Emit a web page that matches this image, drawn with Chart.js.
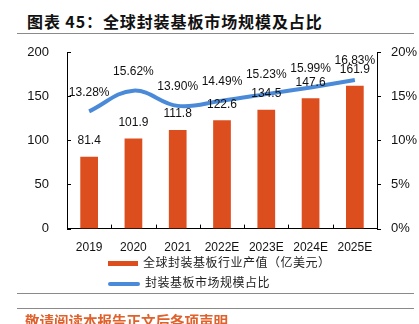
<!DOCTYPE html>
<html>
<head>
<meta charset="utf-8">
<script src="https://cdn.jsdelivr.net/npm/chart.js@4/dist/chart.umd.min.js"></script>
<style>
  body { margin: 0; width: 419px; height: 324px; overflow: hidden; background: #fff; position: relative; font-family: "Noto Sans CJK SC", sans-serif; }
  #titulo { position: absolute; left: 27px; top: 9px; font-size: 16px; font-weight: bold; letter-spacing: 0.9px; color: #111; white-space: nowrap; }
  .linea { position: absolute; left: 17px; width: 397px; height: 1px; background: #8a8a8a; }
  #grafico { position: absolute; left: 0; top: 0; }
  .leyenda { position: absolute; left: 108px; font-size: 12px; color: #222; white-space: nowrap; letter-spacing: 0.5px; }
  .leyenda span { display: inline-block; vertical-align: middle; margin-right: 5px; }
  #pie { position: absolute; left: 25px; top: 310px; font-size: 14.5px; font-weight: bold; color: #e0612b; white-space: nowrap; }
</style>
</head>
<body>
<div id="titulo">图表 45：全球封装基板市场规模及占比</div>
<div class="linea" style="top:33px"></div>
<canvas id="grafico" width="419" height="259"></canvas>
<div class="leyenda" style="top:253px"><span style="width:30px;height:5px;background:#dd4e1f"></span>全球封装基板行业产值（亿美元）</div>
<div class="leyenda" style="top:273px"><span style="width:32px;height:4px;background:#4a8ad8;border-radius:2px"></span>封装基板市场规模占比</div>
<div class="linea" style="top:293px"></div>
<div class="linea" style="top:308px"></div>
<div id="pie">敬请阅读本报告正文后各项声明</div>
<script>
// Datos del gráfico
const anios = ['2019', '2020', '2021', '2022E', '2023E', '2024E', '2025E'];
const valorIndustria = [81.4, 101.9, 111.8, 122.6, 134.5, 147.6, 161.9];
const participacion = [13.28, 15.62, 13.90, 14.49, 15.23, 15.99, 16.83];
const ticksIzq = [0, 50, 100, 150, 200];
const ticksDer = [0, 5, 10, 15, 20];

// Plugin para dibujar etiquetas y marcas de eje
const etiquetasPlugin = {
  id: 'etiquetas',
  afterDatasetsDraw(chart) {
    const ctx = chart.ctx;
    ctx.save();
    ctx.fillStyle = '#111';
    ctx.font = '12px "Liberation Sans", Arial, sans-serif';
    ctx.textAlign = 'center';
    ctx.textBaseline = 'middle';
    chart.getDatasetMeta(0).data.forEach((bar, i) => {
      ctx.fillText(valorIndustria[i].toFixed(1), bar.x, bar.y - 16);
    });
    chart.getDatasetMeta(1).data.forEach((pt, i) => {
      ctx.fillText(participacion[i].toFixed(2) + '%', pt.x, pt.y - 19);
    });

    // marcas de los ejes
    const area = chart.chartArea;
    const yL = chart.scales.y;
    const yR = chart.scales.y1;
    ctx.strokeStyle = '#000';
    ctx.lineWidth = 1;
    ctx.beginPath();
    for (let i = 0; i <= anios.length; i++) {
      const px = Math.round(area.left + (area.right - area.left) * i / anios.length) + 0.5;
      ctx.moveTo(px, area.bottom);
      ctx.lineTo(px, area.bottom - 4);
    }
    ticksIzq.forEach(v => {
      const py = Math.round(yL.getPixelForValue(v)) + 0.5;
      ctx.moveTo(area.left, py);
      ctx.lineTo(area.left + 4, py);
    });
    ticksDer.forEach(v => {
      const py = Math.round(yR.getPixelForValue(v)) + 0.5;
      ctx.moveTo(area.right, py);
      ctx.lineTo(area.right + 4, py);
    });
    ctx.stroke();
    ctx.restore();
  }
};

const ctx = document.getElementById('grafico').getContext('2d');
window.grafico = new Chart(ctx, {
  data: {
    labels: anios,
    datasets: [{
      type: 'bar',
      label: '全球封装基板行业产值（亿美元）',
      data: valorIndustria,
      backgroundColor: '#dd4e1f',
      categoryPercentage: 1,
      barPercentage: 0.4,
      yAxisID: 'y',
      order: 2
    }, {
      type: 'line',
      label: '封装基板市场规模占比',
      data: participacion,
      borderColor: '#4a8ad8',
      borderWidth: 4,
      pointRadius: 0,
      tension: 0.4,
      yAxisID: 'y1',
      order: 1
    }]
  },
  options: {
    responsive: false,
    animation: false,
    layout: { padding: { top: 52, right: 0, left: 0, bottom: 0 } },
    plugins: { legend: { display: false }, tooltip: { enabled: false } },
    scales: {
      x: {
        grid: { display: false },
        border: { color: '#000' },
        ticks: { color: '#111', font: { family: '"Liberation Sans", Arial', size: 12 }, padding: 4, maxRotation: 0 }
      },
      y: {
        position: 'left',
        min: 0, max: 200,
        afterFit(s) { s.width = 67; },
        afterBuildTicks(s) { s.ticks = ticksIzq.map(v => ({ value: v })); },
        grid: { display: false },
        border: { color: '#000' },
        ticks: { color: '#111', font: { family: '"Liberation Sans", Arial', size: 13 }, padding: 10 }
      },
      y1: {
        position: 'right',
        min: 0, max: 20,
        afterFit(s) { s.width = 42; },
        afterBuildTicks(s) { s.ticks = ticksDer.map(v => ({ value: v })); },
        grid: { display: false },
        border: { color: '#000' },
        ticks: { color: '#111', font: { family: '"Liberation Sans", Arial', size: 13 }, padding: 6, callback: v => v + '%' }
      }
    }
  },
  plugins: [etiquetasPlugin]
});
</script>
</body>
</html>
